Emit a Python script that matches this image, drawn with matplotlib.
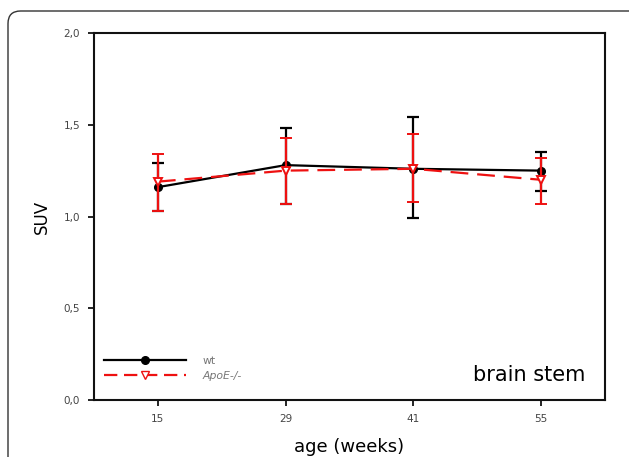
import matplotlib
matplotlib.use("Agg")
import matplotlib.pyplot as plt
from matplotlib.patches import FancyBboxPatch
from matplotlib.lines import Line2D

# data
ages = ["15", "29", "41", "55"]
wt_mean = [1.16, 1.28, 1.26, 1.25]
wt_hi = [1.29, 1.48, 1.54, 1.35]
wt_lo = [1.03, 1.07, 0.99, 1.14]
apoe_mean = [1.19, 1.25, 1.26, 1.20]
apoe_hi = [1.34, 1.43, 1.45, 1.32]
apoe_lo = [1.03, 1.07, 1.08, 1.07]
yticks = [0.0, 0.5, 1.0, 1.5, 2.0]
ytick_labels = ["0,0", "0,5", "1,0", "1,5", "2,0"]

x = list(range(len(ages)))

fig = plt.figure(figsize=(6.29, 4.57), dpi=100)

# rounded frame around the panel (runs off the right and bottom edges)
frame = FancyBboxPatch((8 / 629, -0.5), 1.5, 1.5 - 11 / 457,
                       boxstyle="round,pad=0,rounding_size=0.02",
                       transform=fig.transFigure, fill=False,
                       edgecolor="#333333", linewidth=1.0, mutation_aspect=629 / 457)
fig.patches.append(frame)

ax = fig.add_axes([94 / 629, 57 / 457, 511 / 629, 367 / 457])

wt_err = [[m - l for m, l in zip(wt_mean, wt_lo)], [h - m for m, h in zip(wt_mean, wt_hi)]]
ap_err = [[m - l for m, l in zip(apoe_mean, apoe_lo)], [h - m for m, h in zip(apoe_mean, apoe_hi)]]

ax.errorbar(x, wt_mean, yerr=wt_err, color="black", linewidth=1.6,
            marker="o", markersize=5.5, markerfacecolor="black",
            elinewidth=1.6, capsize=4, capthick=1.6, zorder=3)
ax.errorbar(x, apoe_mean, yerr=ap_err, color="#ee1111", linewidth=1.6,
            linestyle=(0, (8, 4)), marker="v", markersize=5.5,
            markerfacecolor="white", markeredgecolor="#ee1111", markeredgewidth=1.4,
            elinewidth=1.6, capsize=4, capthick=1.6, zorder=4)

ax.set_xlim(-0.5, 3.5)
ax.set_ylim(0, 2.0)
ax.set_xticks(x)
ax.set_xticklabels(ages)
ax.set_yticks(yticks)
ax.set_yticklabels(ytick_labels)
ax.tick_params(direction="out", length=4, width=1.2, labelsize=7.5,
               labelcolor="#444444", pad=6)
for s in ax.spines.values():
    s.set_linewidth(1.5)
    s.set_color("#111111")

ax.set_xlabel("age (weeks)", fontsize=13, labelpad=10)
ax.set_ylabel("SUV", fontsize=12, labelpad=9)

handles = [
    Line2D([], [], color="black", linewidth=1.6, marker="o", markersize=5.5),
    Line2D([], [], color="#ee1111", linewidth=1.6, linestyle=(0, (6, 3)),
           marker="v", markersize=5.5, markerfacecolor="white", markeredgecolor="#ee1111"),
]
leg = ax.legend(handles, ["wt", "ApoE-/-"], loc="lower left",
                bbox_to_anchor=(0.0, 0.025), frameon=False, fontsize=7.8,
                handlelength=7.6, handletextpad=1.5, labelspacing=0.5)
for t in leg.get_texts():
    t.set_color("#777777")
leg.get_texts()[1].set_style("italic")

ax.text(0.962, 0.04, "brain stem", transform=ax.transAxes, ha="right",
        va="bottom", fontsize=15)

fig.savefig("out.png", dpi=100)
